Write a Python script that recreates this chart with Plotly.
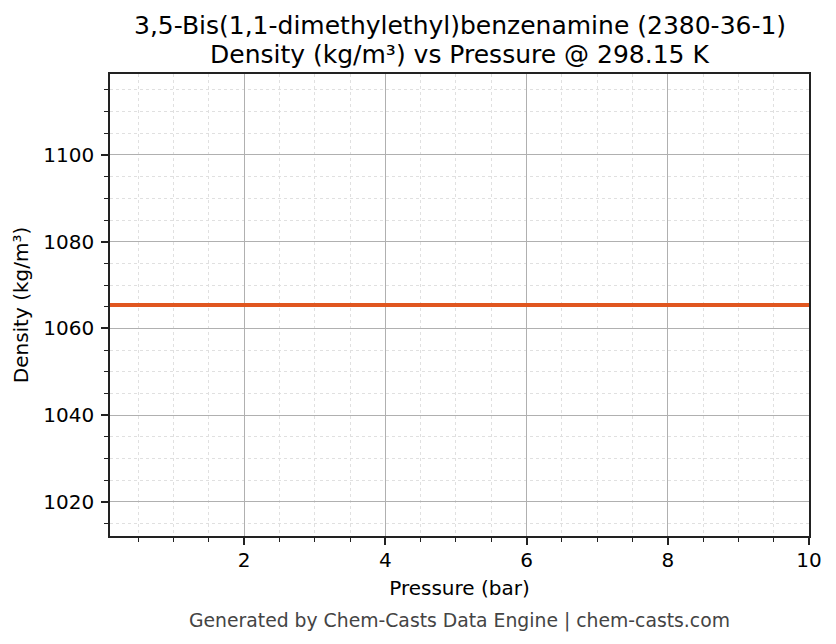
# %%
import plotly.graph_objects as go

# %%
# Density vs pressure at 298.15 K (flat over the whole range)
pressure_bar = [0.1, 1.0, 2.0, 3.0, 4.0, 5.0, 6.0, 7.0, 8.0, 9.0, 10.0]
density_kg_m3 = [1065.4, 1065.4, 1065.4, 1065.4, 1065.4, 1065.4,
                 1065.4, 1065.4, 1065.4, 1065.4, 1065.4]

x_ticks = [2, 4, 6, 8, 10]
y_ticks = [1020, 1040, 1060, 1080, 1100]

title_line1 = "3,5-Bis(1,1-dimethylethyl)benzenamine (2380-36-1)"
title_line2 = "Density (kg/m³) vs Pressure @ 298.15 K"
footer = "Generated by Chem-Casts Data Engine | chem-casts.com"

# %%
FONT = "DejaVu Sans"
AXIS_COLOR = "#222222"

fig = go.Figure()
fig.add_trace(go.Scatter(
    x=pressure_bar, y=density_kg_m3, mode="lines",
    line=dict(color="#E0561F", width=4),
    showlegend=False,
))

axis_common = dict(
    showline=True, mirror=True, linecolor=AXIS_COLOR, linewidth=1.5,
    ticks="outside", ticklen=7, tickwidth=1.5, tickcolor=AXIS_COLOR,
    showgrid=True, gridcolor="#b0b0b0", gridwidth=1,
    zeroline=False,
    tickfont=dict(family=FONT, size=20, color="black"),
)

lo, hi = density_kg_m3[0] * 0.95, density_kg_m3[0] * 1.05

fig.update_layout(
    width=836, height=644,
    margin=dict(l=110, r=27, t=74, b=108),
    paper_bgcolor="white", plot_bgcolor="white",
    font=dict(family=FONT, color="black"),
    xaxis=dict(
        axis_common, range=[0.1, 10], tickvals=x_ticks, ticklabelstandoff=-2,
        title=dict(text="Pressure (bar)", font=dict(family=FONT, size=20), standoff=10),
        minor=dict(dtick=0.5, tick0=0, ticks="outside", ticklen=4, tickwidth=1.2,
                   tickcolor=AXIS_COLOR, showgrid=True, gridcolor="#e0e0e0",
                   gridwidth=0.6, griddash="dot"),
    ),
    yaxis=dict(
        axis_common, range=[lo, hi], tickvals=y_ticks, ticklabelstandoff=3,
        title=dict(text="Density (kg/m³)", font=dict(family=FONT, size=20), standoff=9),
        minor=dict(dtick=5, tick0=1000, ticks="outside", ticklen=4, tickwidth=1.2,
                   tickcolor=AXIS_COLOR, showgrid=True, gridcolor="#e0e0e0",
                   gridwidth=0.6, griddash="dot"),
    ),
    annotations=[
        dict(text=title_line1, xref="paper", yref="paper", x=0.5, y=1.104,
             yanchor="middle", showarrow=False, font=dict(family=FONT, size=25)),
        dict(text=title_line2, xref="paper", yref="paper", x=0.5, y=1.043,
             yanchor="middle", showarrow=False, font=dict(family=FONT, size=25)),
        dict(text=footer, xref="paper", yref="paper", x=0.5, y=-0.183,
             yanchor="middle", showarrow=False,
             font=dict(family=FONT, size=18.8, color="#444444")),
    ],
)

# drop the default page margin so the figure sits at the window corner
fig.write_html("out.html", config={"displayModeBar": False},
               post_script="document.body.style.margin='0';")
